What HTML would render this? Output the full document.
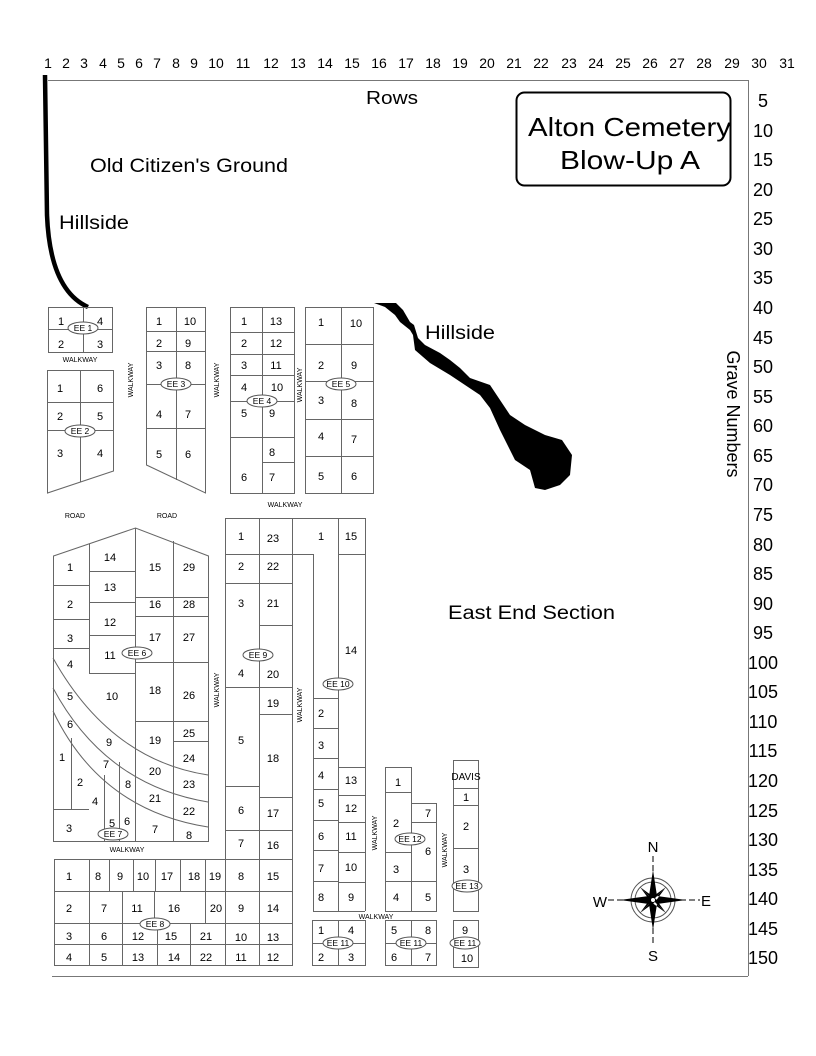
<!DOCTYPE html>
<html><head><meta charset="utf-8"><style>
html,body{margin:0;padding:0;background:#fff}
svg{display:block}
text{font-family:"Liberation Sans",sans-serif;fill:#000}
.n{font-size:11px;text-anchor:middle}
.w{font-size:7px;text-anchor:middle}
.e{font-size:8.5px;text-anchor:middle}
.t{font-size:14px;text-anchor:middle}
.r{font-size:18px;text-anchor:middle}
</style></head><body>
<svg width="816" height="1056" viewBox="0 0 816 1056" xmlns="http://www.w3.org/2000/svg">
<g class="t">
<text x="48" y="68">1</text><text x="66" y="68">2</text><text x="84" y="68">3</text><text x="103" y="68">4</text><text x="121" y="68">5</text><text x="139" y="68">6</text><text x="157" y="68">7</text><text x="176" y="68">8</text><text x="194" y="68">9</text><text x="216" y="68">10</text><text x="243" y="68">11</text><text x="271" y="68">12</text><text x="298" y="68">13</text><text x="325" y="68">14</text><text x="352" y="68">15</text><text x="379" y="68">16</text><text x="406" y="68">17</text><text x="433" y="68">18</text><text x="460" y="68">19</text><text x="487" y="68">20</text><text x="514" y="68">21</text><text x="541" y="68">22</text><text x="569" y="68">23</text><text x="596" y="68">24</text><text x="623" y="68">25</text><text x="650" y="68">26</text><text x="677" y="68">27</text><text x="704" y="68">28</text><text x="732" y="68">29</text><text x="759" y="68">30</text><text x="787" y="68">31</text>
</g>
<g class="r">
<text x="763" y="107">5</text><text x="763" y="137">10</text><text x="763" y="166">15</text><text x="763" y="196">20</text><text x="763" y="225">25</text><text x="763" y="255">30</text><text x="763" y="284">35</text><text x="763" y="314">40</text><text x="763" y="344">45</text><text x="763" y="373">50</text><text x="763" y="403">55</text><text x="763" y="432">60</text><text x="763" y="462">65</text><text x="763" y="491">70</text><text x="763" y="521">75</text><text x="763" y="551">80</text><text x="763" y="580">85</text><text x="763" y="610">90</text><text x="763" y="639">95</text><text x="763" y="669">100</text><text x="763" y="698">105</text><text x="763" y="728">110</text><text x="763" y="757">115</text><text x="763" y="787">120</text><text x="763" y="817">125</text><text x="763" y="846">130</text><text x="763" y="876">135</text><text x="763" y="905">140</text><text x="763" y="935">145</text><text x="763" y="964">150</text>
</g>
<g stroke="#777" stroke-width="1" fill="none">
<line x1="48" y1="80.5" x2="748" y2="80.5"/>
<line x1="748.5" y1="80" x2="748.5" y2="976"/>
<line x1="52" y1="976.5" x2="748" y2="976.5"/>
</g>
<rect x="516.5" y="92.5" width="214" height="93" rx="8" fill="none" stroke="#000" stroke-width="2"/>
<text x="528" y="136" textLength="203" lengthAdjust="spacingAndGlyphs" style="font-size:26px">Alton Cemetery</text>
<text x="560" y="169" textLength="140" lengthAdjust="spacingAndGlyphs" style="font-size:26px">Blow-Up A</text>
<text x="366" y="104" textLength="52" lengthAdjust="spacingAndGlyphs" style="font-size:18px">Rows</text>
<text x="90" y="172" textLength="198" lengthAdjust="spacingAndGlyphs" style="font-size:19px">Old Citizen's Ground</text>
<text x="59" y="229" textLength="70" lengthAdjust="spacingAndGlyphs" style="font-size:19px">Hillside</text>
<text x="425" y="339" textLength="70" lengthAdjust="spacingAndGlyphs" style="font-size:19px">Hillside</text>
<text x="448" y="619" textLength="167" lengthAdjust="spacingAndGlyphs" style="font-size:19px">East End Section</text>
<text transform="translate(727,414) rotate(90)" style="font-size:18px;text-anchor:middle">Grave Numbers</text>
<path d="M45,75 L47,215 Q50,290 88,307" stroke="#000" stroke-width="4.5" fill="none"/>
<path d="M374,303 L396,303 L403,310 L410,322 L414,325 L418,338 L425,345 L440,353 L450,360 L460,368 L470,378 L490,385 L500,400 L510,415 L525,425 L545,435 L562,440 L572,455 L570,475 L560,485 L545,490 L535,488 L530,470 L515,460 L510,450 L500,430 L490,408 L480,395 L465,385 L450,375 L430,363 L415,350 L413,335 L410,330 L400,322 L395,315 L385,307 Z" fill="#000"/>
<g stroke="#666" stroke-width="1" fill="none">
<rect x="48.5" y="307.5" width="64" height="45"/><line x1="83.5" y1="307" x2="83.5" y2="352"/><line x1="48" y1="329.5" x2="112" y2="329.5"/>
<path d="M47.5,370.5 H113.5 V471 L47.5,493 Z"/><line x1="80.5" y1="370" x2="80.5" y2="482"/><line x1="47" y1="402.5" x2="113" y2="402.5"/><line x1="47" y1="430.5" x2="113" y2="430.5"/>
<path d="M146.5,307.5 H205.5 V493 L146.5,465 Z"/><line x1="176.5" y1="307" x2="176.5" y2="480"/><line x1="146" y1="331.5" x2="205" y2="331.5"/><line x1="146" y1="351.5" x2="205" y2="351.5"/><line x1="146" y1="384.5" x2="205" y2="384.5"/><line x1="146" y1="428.5" x2="205" y2="428.5"/>
<rect x="230.5" y="307.5" width="64" height="186"/><line x1="262.5" y1="307" x2="262.5" y2="493"/><line x1="230" y1="332.5" x2="294" y2="332.5"/><line x1="230" y1="354.5" x2="294" y2="354.5"/><line x1="230" y1="375.5" x2="294" y2="375.5"/><line x1="230" y1="401.5" x2="294" y2="401.5"/><line x1="230" y1="437.5" x2="294" y2="437.5"/><line x1="262" y1="462.5" x2="294" y2="462.5"/>
<rect x="305.5" y="307.5" width="68" height="186"/><line x1="341.5" y1="307" x2="341.5" y2="493"/><line x1="305" y1="344.5" x2="373" y2="344.5"/><line x1="305" y1="381.5" x2="373" y2="381.5"/><line x1="305" y1="419.5" x2="373" y2="419.5"/><line x1="305" y1="456.5" x2="373" y2="456.5"/>
<path d="M53.5,556 L135.5,528 L208.5,556 V841.5 H53.5 Z"/>
<line x1="89.5" y1="544" x2="89.5" y2="673"/><line x1="135.5" y1="528" x2="135.5" y2="841"/><line x1="173.5" y1="541" x2="173.5" y2="841"/>
<line x1="53" y1="585.5" x2="89" y2="585.5"/><line x1="53" y1="619.5" x2="89" y2="619.5"/><line x1="53" y1="648.5" x2="89" y2="648.5"/>
<line x1="89" y1="571.5" x2="135" y2="571.5"/><line x1="89" y1="602.5" x2="135" y2="602.5"/><line x1="89" y1="635.5" x2="135" y2="635.5"/><line x1="89" y1="673.5" x2="135" y2="673.5"/>
<line x1="135" y1="597.5" x2="208" y2="597.5"/><line x1="135" y1="616.5" x2="208" y2="616.5"/><line x1="135" y1="662.5" x2="208" y2="662.5"/><line x1="135" y1="721.5" x2="208" y2="721.5"/><line x1="173" y1="741.5" x2="208" y2="741.5"/>
<path d="M53,658 Q110,760 208,775"/><path d="M53,688 Q105,785 208,802"/><path d="M53,711 Q100,810 208,827"/>
<line x1="71.5" y1="738" x2="71.5" y2="809"/><line x1="53" y1="809.5" x2="89" y2="809.5"/><line x1="104.5" y1="775" x2="104.5" y2="841"/><line x1="119.5" y1="762" x2="119.5" y2="841"/>
<line x1="225" y1="518.5" x2="365" y2="518.5"/><line x1="225.5" y1="518" x2="225.5" y2="966"/><line x1="259.5" y1="518" x2="259.5" y2="966"/><line x1="292.5" y1="518" x2="292.5" y2="966"/>
<line x1="225" y1="554.5" x2="292" y2="554.5"/><line x1="225" y1="583.5" x2="292" y2="583.5"/><line x1="259" y1="625.5" x2="292" y2="625.5"/><line x1="225" y1="687.5" x2="292" y2="687.5"/><line x1="259" y1="714.5" x2="292" y2="714.5"/><line x1="225" y1="786.5" x2="259" y2="786.5"/><line x1="259" y1="797.5" x2="292" y2="797.5"/><line x1="225" y1="830.5" x2="292" y2="830.5"/>
<rect x="54.5" y="859.5" width="238" height="106"/>
<line x1="54" y1="891.5" x2="292" y2="891.5"/><line x1="54" y1="923.5" x2="292" y2="923.5"/><line x1="54" y1="944.5" x2="292" y2="944.5"/>
<line x1="89.5" y1="859" x2="89.5" y2="966"/><line x1="109.5" y1="859" x2="109.5" y2="891"/><line x1="133.5" y1="859" x2="133.5" y2="891"/><line x1="155.5" y1="859" x2="155.5" y2="891"/><line x1="180.5" y1="859" x2="180.5" y2="891"/><line x1="205.5" y1="859" x2="205.5" y2="923"/><line x1="225.5" y1="859" x2="225.5" y2="966"/>
<line x1="122.5" y1="891" x2="122.5" y2="966"/><line x1="154.5" y1="891" x2="154.5" y2="923"/><line x1="157.5" y1="923" x2="157.5" y2="966"/><line x1="190.5" y1="923" x2="190.5" y2="966"/>
<line x1="292" y1="554.5" x2="313" y2="554.5"/><line x1="338.5" y1="518" x2="338.5" y2="911"/><line x1="365.5" y1="518" x2="365.5" y2="911"/><line x1="313.5" y1="554" x2="313.5" y2="911"/><line x1="338" y1="554.5" x2="365" y2="554.5"/>
<line x1="313" y1="698.5" x2="338" y2="698.5"/><line x1="313" y1="728.5" x2="338" y2="728.5"/><line x1="313" y1="758.5" x2="338" y2="758.5"/><line x1="313" y1="789.5" x2="338" y2="789.5"/><line x1="313" y1="820.5" x2="338" y2="820.5"/><line x1="313" y1="850.5" x2="338" y2="850.5"/><line x1="313" y1="881.5" x2="338" y2="881.5"/><line x1="313" y1="911.5" x2="365" y2="911.5"/>
<line x1="338" y1="767.5" x2="365" y2="767.5"/><line x1="338" y1="795.5" x2="365" y2="795.5"/><line x1="338" y1="822.5" x2="365" y2="822.5"/><line x1="338" y1="852.5" x2="365" y2="852.5"/><line x1="338" y1="882.5" x2="365" y2="882.5"/>
<path d="M385.5,911.5 V767.5 H411.5 V803.5 H436.5 V911.5 Z"/><line x1="411.5" y1="803" x2="411.5" y2="911"/>
<line x1="385" y1="792.5" x2="411" y2="792.5"/><line x1="385" y1="852.5" x2="411" y2="852.5"/><line x1="385" y1="881.5" x2="436" y2="881.5"/><line x1="411" y1="822.5" x2="436" y2="822.5"/>
<rect x="453.5" y="760.5" width="25" height="151"/><line x1="453" y1="788.5" x2="478" y2="788.5"/><line x1="453" y1="805.5" x2="478" y2="805.5"/><line x1="453" y1="848.5" x2="478" y2="848.5"/>
<rect x="312.5" y="920.5" width="53" height="45"/><line x1="338.5" y1="920" x2="338.5" y2="965"/><line x1="312" y1="943.5" x2="365" y2="943.5"/>
<rect x="385.5" y="920.5" width="51" height="45"/><line x1="411.5" y1="920" x2="411.5" y2="965"/><line x1="385" y1="943.5" x2="436" y2="943.5"/>
<rect x="453.5" y="920.5" width="25" height="47"/><line x1="453" y1="943.5" x2="478" y2="943.5"/>
</g>
<g fill="#fff" stroke="#555" stroke-width="1">
<ellipse cx="83" cy="328" rx="15" ry="6"/><ellipse cx="80" cy="431" rx="15" ry="6"/><ellipse cx="176" cy="384" rx="15" ry="6"/><ellipse cx="262" cy="401" rx="15" ry="6"/><ellipse cx="341" cy="384" rx="15" ry="6"/><ellipse cx="137" cy="653" rx="15" ry="6"/><ellipse cx="113" cy="834" rx="15" ry="6"/><ellipse cx="258" cy="655" rx="15" ry="6"/><ellipse cx="155" cy="924" rx="15" ry="6"/><ellipse cx="338" cy="684" rx="15" ry="6"/><ellipse cx="410" cy="839" rx="15" ry="6"/><ellipse cx="467" cy="886" rx="15" ry="6"/><ellipse cx="338" cy="943" rx="15" ry="6"/><ellipse cx="411" cy="943" rx="15" ry="6"/><ellipse cx="465" cy="943" rx="15" ry="6"/>
</g>
<g class="e">
<text x="83" y="331">EE 1</text><text x="80" y="434">EE 2</text><text x="176" y="387">EE 3</text><text x="262" y="404">EE 4</text><text x="341" y="387">EE 5</text><text x="137" y="656">EE 6</text><text x="113" y="837">EE 7</text><text x="258" y="658">EE 9</text><text x="155" y="927">EE 8</text><text x="338" y="687">EE 10</text><text x="410" y="842">EE 12</text><text x="467" y="889">EE 13</text><text x="338" y="946">EE 11</text><text x="411" y="946">EE 11</text><text x="465" y="946">EE 11</text>
</g>
<g class="w">
<text x="80" y="362">WALKWAY</text><text x="285" y="507">WALKWAY</text><text x="75" y="518">ROAD</text><text x="167" y="518">ROAD</text><text x="127" y="852">WALKWAY</text><text x="376" y="919">WALKWAY</text>
<text transform="translate(133,380) rotate(-90)">WALKWAY</text><text transform="translate(219,380) rotate(-90)">WALKWAY</text><text transform="translate(302,385) rotate(-90)">WALKWAY</text><text transform="translate(219,690) rotate(-90)">WALKWAY</text><text transform="translate(302,705) rotate(-90)">WALKWAY</text><text transform="translate(377,833) rotate(-90)">WALKWAY</text><text transform="translate(447,850) rotate(-90)">WALKWAY</text>
</g>
<g class="n">
<text x="61" y="325">1</text><text x="100" y="325">4</text><text x="61" y="348">2</text><text x="100" y="348">3</text>
<text x="60" y="392">1</text><text x="100" y="392">6</text><text x="60" y="420">2</text><text x="100" y="420">5</text><text x="60" y="457">3</text><text x="100" y="457">4</text>
<text x="159" y="325">1</text><text x="190" y="325">10</text><text x="159" y="347">2</text><text x="188" y="347">9</text><text x="159" y="369">3</text><text x="188" y="369">8</text><text x="159" y="418">4</text><text x="188" y="418">7</text><text x="159" y="458">5</text><text x="188" y="458">6</text>
<text x="244" y="325">1</text><text x="276" y="325">13</text><text x="244" y="347">2</text><text x="276" y="347">12</text><text x="244" y="369">3</text><text x="276" y="369">11</text><text x="244" y="391">4</text><text x="277" y="391">10</text><text x="244" y="417">5</text><text x="272" y="417">9</text><text x="272" y="456">8</text><text x="244" y="481">6</text><text x="272" y="481">7</text>
<text x="321" y="326">1</text><text x="356" y="327">10</text><text x="321" y="369">2</text><text x="354" y="369">9</text><text x="321" y="404">3</text><text x="354" y="407">8</text><text x="321" y="440">4</text><text x="354" y="443">7</text><text x="321" y="480">5</text><text x="354" y="480">6</text>
<text x="70" y="571">1</text><text x="110" y="561">14</text><text x="155" y="571">15</text><text x="189" y="571">29</text><text x="70" y="608">2</text><text x="110" y="591">13</text><text x="155" y="608">16</text><text x="189" y="608">28</text><text x="70" y="642">3</text><text x="110" y="626">12</text><text x="155" y="641">17</text><text x="189" y="641">27</text><text x="70" y="668">4</text><text x="110" y="659">11</text><text x="70" y="700">5</text><text x="112" y="700">10</text><text x="155" y="694">18</text><text x="189" y="699">26</text><text x="70" y="728">6</text><text x="109" y="746">9</text><text x="155" y="744">19</text><text x="189" y="737">25</text><text x="62" y="761">1</text><text x="106" y="768">7</text><text x="155" y="775">20</text><text x="189" y="762">24</text><text x="80" y="786">2</text><text x="128" y="788">8</text><text x="189" y="788">23</text><text x="95" y="805">4</text><text x="155" y="802">21</text><text x="189" y="815">22</text><text x="112" y="827">5</text><text x="127" y="825">6</text><text x="69" y="832">3</text><text x="155" y="833">7</text><text x="189" y="839">8</text>
<text x="241" y="540">1</text><text x="273" y="542">23</text><text x="241" y="570">2</text><text x="273" y="570">22</text><text x="241" y="607">3</text><text x="273" y="607">21</text><text x="241" y="677">4</text><text x="273" y="678">20</text><text x="273" y="707">19</text><text x="241" y="744">5</text><text x="273" y="762">18</text><text x="241" y="814">6</text><text x="273" y="817">17</text><text x="241" y="847">7</text><text x="273" y="849">16</text><text x="241" y="880">8</text><text x="273" y="880">15</text><text x="241" y="912">9</text><text x="273" y="912">14</text><text x="241" y="941">10</text><text x="273" y="941">13</text><text x="241" y="961">11</text><text x="273" y="961">12</text>
<text x="69" y="880">1</text><text x="98" y="880">8</text><text x="120" y="880">9</text><text x="143" y="880">10</text><text x="167" y="880">17</text><text x="194" y="880">18</text><text x="215" y="880">19</text>
<text x="69" y="912">2</text><text x="104" y="912">7</text><text x="137" y="912">11</text><text x="174" y="912">16</text><text x="216" y="912">20</text>
<text x="69" y="940">3</text><text x="104" y="940">6</text><text x="138" y="940">12</text><text x="171" y="940">15</text><text x="206" y="940">21</text>
<text x="69" y="961">4</text><text x="104" y="961">5</text><text x="138" y="961">13</text><text x="174" y="961">14</text><text x="206" y="961">22</text>
<text x="321" y="540">1</text><text x="351" y="540">15</text><text x="351" y="654">14</text><text x="321" y="717">2</text><text x="321" y="749">3</text><text x="321" y="779">4</text><text x="351" y="784">13</text><text x="321" y="807">5</text><text x="351" y="812">12</text><text x="321" y="840">6</text><text x="351" y="840">11</text><text x="321" y="872">7</text><text x="351" y="871">10</text><text x="321" y="901">8</text><text x="351" y="901">9</text>
<text x="398" y="786">1</text><text x="428" y="817">7</text><text x="396" y="827">2</text><text x="428" y="855">6</text><text x="396" y="873">3</text><text x="396" y="901">4</text><text x="428" y="901">5</text>
<text x="466" y="780" style="font-size:10px">DAVIS</text><text x="466" y="801">1</text><text x="466" y="830">2</text><text x="466" y="873">3</text>
<text x="321" y="934">1</text><text x="351" y="934">4</text><text x="321" y="961">2</text><text x="351" y="961">3</text>
<text x="394" y="934">5</text><text x="428" y="934">8</text><text x="394" y="961">6</text><text x="428" y="961">7</text>
<text x="465" y="934">9</text><text x="467" y="962">10</text>
</g>
<g>
<line x1="653" y1="856" x2="653" y2="944" stroke="#000" stroke-width="1" stroke-dasharray="6,3"/>
<line x1="608" y1="900" x2="700" y2="900" stroke="#000" stroke-width="1" stroke-dasharray="6,3"/>
<circle cx="653" cy="900" r="22" fill="none" stroke="#555"/><circle cx="653" cy="900" r="18" fill="none" stroke="#555"/>
<path d="M653,870 L657,896 L653,900 L649,896 Z M653,930 L657,904 L653,900 L649,904 Z M620,900 L649,896 L653,900 L649,904 Z M686,900 L657,896 L653,900 L657,904 Z M640,887 L655,898 L653,900 Z M666,887 L655,902 L653,900 Z M640,913 L651,898 L653,900 Z M666,913 L651,902 L653,900 Z" fill="#000"/>
<path d="M640,887 L651,902 L653,900Z M666,887 L651,898 L653,900Z M640,913 L655,902 L653,900Z M666,913 L655,898 L653,900Z" fill="#000"/>
<circle cx="653" cy="900" r="2" fill="#fff"/>
<text x="653" y="852" style="font-size:15px;text-anchor:middle">N</text>
<text x="653" y="961" style="font-size:15px;text-anchor:middle">S</text>
<text x="600" y="907" style="font-size:15px;text-anchor:middle">W</text>
<text x="706" y="906" style="font-size:15px;text-anchor:middle">E</text>
</g>
</svg>
</body></html>
